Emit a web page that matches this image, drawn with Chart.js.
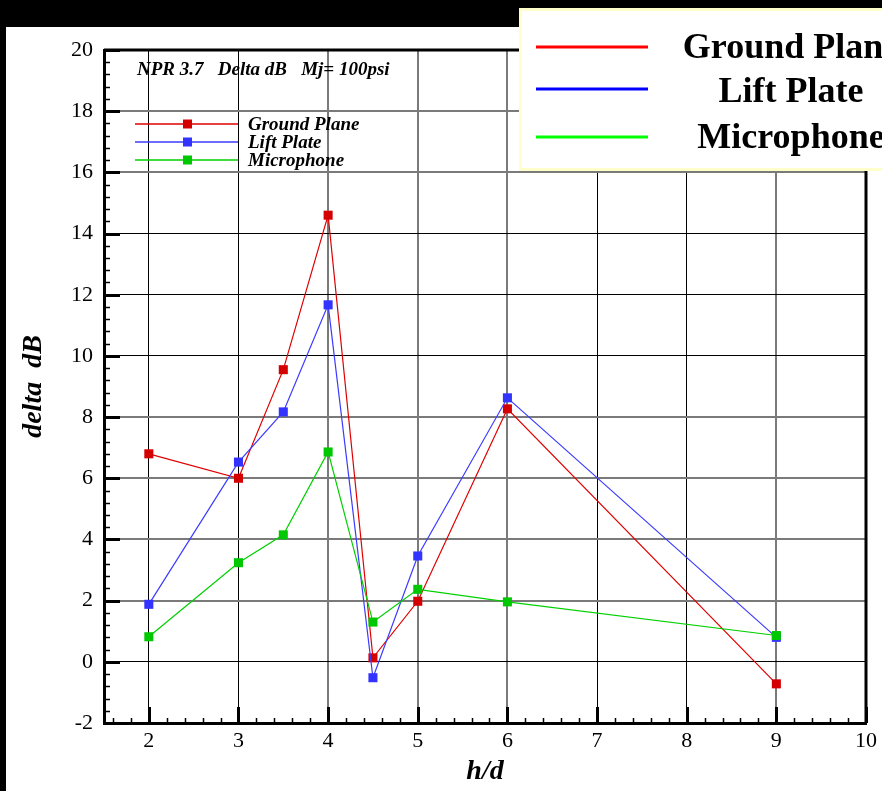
<!DOCTYPE html>
<html>
<head>
<meta charset="utf-8">
<script src="https://cdn.jsdelivr.net/npm/chart.js@4.4.1/dist/chart.umd.min.js"></script>
<style>
  html, body { margin: 0; padding: 0; background: #fff; overflow: hidden; }
  #wrap { width: 882px; height: 791px; position: relative; }
</style>
</head>
<body>
<div id="wrap"><canvas id="chart" width="882" height="791"></canvas></div>
<script>
// values
const hd = [2, 3, 3.5, 4, 4.5, 5, 6, 9];
const groundPlane = [6.8, 6.0, 9.55, 14.6, 0.13, 1.98, 8.27, -0.72];
const liftPlate = [1.88, 6.53, 8.17, 11.67, -0.52, 3.46, 8.63, 0.8];
const microphone = [0.82, 3.24, 4.15, 6.86, 1.3, 2.37, 1.96, 0.86];
const seriesNames = ["Ground Plane", "Lift Plate", "Microphone"];
const xTickValues = [2, 3, 4, 5, 6, 7, 8, 9, 10];
const yTickValues = [-2, 0, 2, 4, 6, 8, 10, 12, 14, 16, 18, 20];
const plotNote = "NPR 3.7   Delta dB   Mj= 100psi";

const SERIF = '"Liberation Serif", "Times New Roman", serif';
const lineColors = ["#e00000", "#3b3bff", "#00d000"];
const markColors = ["#d40000", "#3333ff", "#00c800"];
const keyColors = ["#ff0000", "#0000ff", "#00ff00"];

// grid lines that come out solid black in the reference, the rest look grey
const darkX = [2, 3, 7, 8];
const darkY = [0, 10, 12, 14];

const toPoints = (ys) => hd.map((x, i) => ({ x, y: ys[i] }));

function makeSet(name, ys, idx, order) {
  return {
    label: name,
    data: toPoints(ys),
    borderColor: lineColors[idx],
    borderWidth: 1.2,
    backgroundColor: markColors[idx],
    pointBackgroundColor: markColors[idx],
    pointBorderWidth: 0,
    pointStyle: "rect",
    pointRadius: 6.4,
    tension: 0,
    order
  };
}

const framePlugin = {
  id: "frame",
  beforeDraw(chart) {
    const { ctx, width, height } = chart;
    ctx.save();
    ctx.fillStyle = "#fff";
    ctx.fillRect(0, 0, width, height);
    ctx.fillStyle = "#000";
    ctx.fillRect(0, 0, width, 27);
    ctx.fillRect(0, 0, 6, height);
    ctx.restore();
  },
  afterDraw(chart) {
    const { ctx, chartArea: a, scales } = chart;
    const xs = scales.x, ys = scales.y;
    ctx.save();
    ctx.strokeStyle = "#000";

    // top and right border
    ctx.lineWidth = 3;
    ctx.beginPath();
    ctx.moveTo(a.left, a.top);
    ctx.lineTo(a.right, a.top);
    ctx.lineTo(a.right, a.bottom);
    ctx.stroke();

    // inward ticks, y
    for (let v = -2; v <= 20.001; v += 0.4) {
      const p = Math.round(ys.getPixelForValue(v)) + 0.5;
      const major = Math.abs(v / 2 - Math.round(v / 2)) < 1e-6;
      ctx.lineWidth = major ? 3 : 1.5;
      ctx.beginPath();
      ctx.moveTo(a.left, p);
      ctx.lineTo(a.left + (major ? 16 : 6), p);
      ctx.stroke();
    }
    // inward ticks, x
    for (let v = 1.6; v <= 10.001; v += 0.2) {
      const p = Math.round(xs.getPixelForValue(v)) + 0.5;
      const major = Math.abs(v - Math.round(v)) < 1e-6;
      ctx.lineWidth = major ? 3 : 1.5;
      ctx.beginPath();
      ctx.moveTo(p, a.bottom);
      ctx.lineTo(p, a.bottom - (major ? 16 : 5));
      ctx.stroke();
    }

    // note + small legend inside the plot
    ctx.fillStyle = "#000";
    ctx.font = "italic bold 19px " + SERIF;
    ctx.textBaseline = "alphabetic";
    ctx.textAlign = "left";
    ctx.fillText(plotNote, 137, 75);

    chart.data.datasets.forEach((ds, i) => {
      const y = 124 + i * 18;
      ctx.strokeStyle = ds.borderColor;
      ctx.lineWidth = 1.5;
      ctx.beginPath();
      ctx.moveTo(135, y);
      ctx.lineTo(238, y);
      ctx.stroke();
      ctx.fillStyle = ds.pointBackgroundColor;
      ctx.fillRect(183, y - 4.5, 9, 9);
      ctx.fillStyle = "#000";
      ctx.textBaseline = "middle";
      ctx.fillText(ds.label, 248, y + 1);
    });

    // big legend box at top right
    ctx.fillStyle = "#fff";
    ctx.fillRect(519, 8, 400, 163);
    ctx.strokeStyle = "#ffffcc";
    ctx.lineWidth = 3;
    ctx.strokeRect(520.5, 9.5, 400, 160);
    const keyY = [47, 89, 137];
    const textY = [58, 102, 148];
    seriesNames.forEach((name, i) => {
      ctx.strokeStyle = keyColors[i];
      ctx.lineWidth = 3;
      ctx.beginPath();
      ctx.moveTo(536, keyY[i]);
      ctx.lineTo(648, keyY[i]);
      ctx.stroke();
      ctx.fillStyle = "#000";
      ctx.font = "bold 36px " + SERIF;
      ctx.textAlign = "center";
      ctx.textBaseline = "alphabetic";
      ctx.fillText(name, 791, textY[i]);
    });
    ctx.restore();
  }
};

const gridColor = (dark) => (c) => (dark.includes(c.tick && c.tick.value) ? "#000" : "#7a7a7a");
const gridWidth = (dark) => (c) => (dark.includes(c.tick && c.tick.value) ? 1 : 2);

new Chart(document.getElementById("chart").getContext("2d"), {
  type: "line",
  data: {
    datasets: [
      makeSet(seriesNames[0], groundPlane, 0, 2),
      makeSet(seriesNames[1], liftPlate, 1, 1),
      makeSet(seriesNames[2], microphone, 2, 0)
    ]
  },
  options: {
    responsive: false,
    animation: false,
    devicePixelRatio: 1,
    layout: { padding: { top: 50, right: 15, left: 0, bottom: 0 } },
    plugins: {
      legend: { display: false },
      tooltip: { enabled: false }
    },
    scales: {
      x: {
        type: "linear",
        min: 1.5,
        max: 10,
        afterFit: (s) => { s.height = 68; },
        afterBuildTicks: (s) => {
          s.ticks = xTickValues.map((value) => ({ value }));
        },
        ticks: {
          stepSize: 1,
          color: "#000",
          padding: 5,
          font: { family: SERIF, size: 22 },
          maxRotation: 0
        },
        grid: {
          drawTicks: false,
          color: gridColor(darkX),
          lineWidth: gridWidth(darkX)
        },
        border: { display: true, color: "#000", width: 3 },
        title: {
          display: true,
          text: "h/d",
          color: "#000",
          font: { family: SERIF, size: 28, style: "italic", weight: "bold" },
          padding: { top: 0, bottom: 2 }
        }
      },
      y: {
        type: "linear",
        min: -2,
        max: 20,
        afterFit: (s) => { s.width = 104; },
        afterBuildTicks: (s) => {
          s.ticks = yTickValues.map((value) => ({ value }));
        },
        ticks: {
          stepSize: 2,
          color: "#000",
          padding: 11,
          font: { family: SERIF, size: 22 }
        },
        grid: {
          drawTicks: false,
          color: gridColor(darkY),
          lineWidth: gridWidth(darkY)
        },
        border: { display: true, color: "#000", width: 3 },
        title: {
          display: true,
          text: "delta  dB",
          color: "#000",
          font: { family: SERIF, size: 28, style: "italic", weight: "bold" },
          padding: { top: 17, bottom: 0 }
        }
      }
    }
  },
  plugins: [framePlugin]
});
</script>
</body>
</html>
